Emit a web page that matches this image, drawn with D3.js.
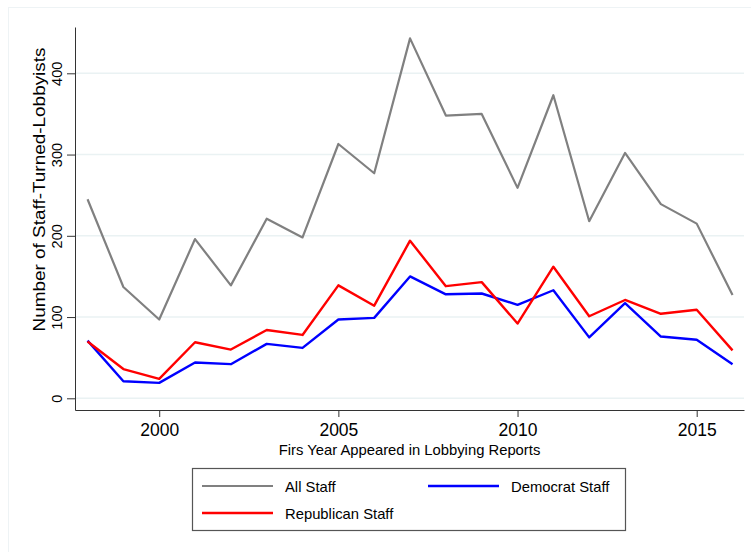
<!DOCTYPE html>
<html>
<head>
<meta charset="utf-8">
<script src="https://cdn.jsdelivr.net/npm/d3@7"></script>
<style>
  body { margin: 0; background: #fff; }
  svg text { font-family: "Liberation Sans", Arial, Helvetica, sans-serif; fill: #000; }
</style>
</head>
<body>
<svg id="chart" width="751" height="552"></svg>
<script>
const years = [1998, 1999, 2000, 2001, 2002, 2003, 2004, 2005, 2006, 2007, 2008, 2009, 2010, 2011, 2012, 2013, 2014, 2015, 2016]
const allStaff = [245, 137, 97, 196, 139, 221, 198, 313, 277, 443, 348, 350, 259, 373, 218, 302, 239, 215, 127]
const demStaff = [71, 21, 19, 44, 42, 67, 62, 97, 99, 150, 128, 129, 115, 133, 75, 117, 76, 72, 42]
const repStaff = [70, 36, 24, 69, 60, 84, 78, 139, 114, 194, 138, 143, 92, 162, 101, 121, 104, 109, 59]
const xTicks = [2000, 2005, 2010, 2015]
const yTicks = [0, 100, 200, 300, 400]

const series = [
  { name: "All Staff", values: allStaff, color: "#808080", width: 2.2 },
  { name: "Democrat Staff", values: demStaff, color: "#0000ff", width: 2.4 },
  { name: "Republican Staff", values: repStaff, color: "#ff0000", width: 2.4 }
]

let svg = d3.select("#chart")
let margin = { top: 27, right: 7, bottom: 142, left: 75 }
let width = 751, height = 552

// faint outer frame of the graph region
svg.append("rect")
  .attr("x", 8.5).attr("y", 7.5)
  .attr("width", 760).attr("height", 560)
  .style("fill", "none")
  .style("stroke", "#eef3f5")

let x = d3.scaleLinear()
  .domain([1997.65, 2016.32])
  .range([margin.left, width - margin.right])

let y = d3.scaleLinear()
  .domain([-14.4, 457])
  .range([height - margin.bottom, margin.top])

// gridlines
svg.append("g")
  .selectAll("line")
  .data(yTicks)
  .join("line")
  .attr("x1", margin.left)
  .attr("x2", width - margin.right)
  .attr("y1", d => y(d))
  .attr("y2", d => y(d))
  .style("stroke", "#eaf2f3")
  .style("stroke-width", 1.5)

let yAxis = svg.append("g")
  .attr("transform", `translate(${margin.left},0)`)
  .call(d3.axisLeft(y).tickValues(yTicks).tickSize(8).tickPadding(0).tickSizeOuter(0))
yAxis.select(".domain").style("stroke", "#333")
yAxis.selectAll(".tick line").style("stroke", "#333")
yAxis.selectAll(".tick text")
  .attr("transform", "rotate(-90)")
  .attr("x", 0).attr("y", -13)
  .attr("dy", 0)
  .attr("text-anchor", "middle")
  .style("font-size", "14.5px")

let xAxis = svg.append("g")
  .attr("transform", `translate(0,${height - margin.bottom})`)
  .call(d3.axisBottom(x).tickValues(xTicks).tickFormat(d3.format("d")).tickSize(7).tickPadding(6).tickSizeOuter(0))
xAxis.select(".domain").style("stroke", "#333")
xAxis.selectAll(".tick line").style("stroke", "#333")
xAxis.selectAll(".tick text")
  .attr("dy", 0).attr("y", 26)
  .style("font-size", "17.5px")

let line = d3.line()
  .x((d, i) => x(years[i]))
  .y(d => y(d))

svg.append("g")
  .selectAll("path")
  .data(series)
  .join("path")
  .attr("d", d => line(d.values))
  .style("fill", "none")
  .style("stroke", d => d.color)
  .style("stroke-width", d => d.width)
  .style("stroke-linejoin", "round")

// axis titles
svg.append("text")
  .attr("transform", `translate(45,${(47 + 332) / 2}) rotate(-90)`)
  .attr("text-anchor", "middle")
  .attr("textLength", 284)
  .attr("lengthAdjust", "spacingAndGlyphs")
  .style("font-size", "16px")
  .text("Number of Staff-Turned-Lobbyists")

svg.append("text")
  .attr("x", (margin.left + width - margin.right) / 2)
  .attr("y", 455)
  .attr("text-anchor", "middle")
  .style("font-size", "14.8px")
  .text("Firs Year Appeared in Lobbying Reports")

// legend
let legend = svg.append("g")
legend.append("rect")
  .attr("x", 192.5).attr("y", 468.5)
  .attr("width", 433).attr("height", 62)
  .style("fill", "#fff")
  .style("stroke", "#555")
  .style("stroke-width", 1.2)

let legendPos = [
  { x: 202, y: 486 },
  { x: 428, y: 486 },
  { x: 202, y: 513 }
]
let items = legend.selectAll("g.item")
  .data(series)
  .join("g")
  .attr("class", "item")
  .attr("transform", (d, i) => `translate(${legendPos[i].x},${legendPos[i].y})`)
items.append("line")
  .attr("x1", 0).attr("x2", 71)
  .style("stroke", d => d.color)
  .style("stroke-width", d => d.width)
items.append("text")
  .attr("x", 83).attr("y", 5.5)
  .style("font-size", "14.8px")
  .text(d => d.name)
</script>
</body>
</html>
